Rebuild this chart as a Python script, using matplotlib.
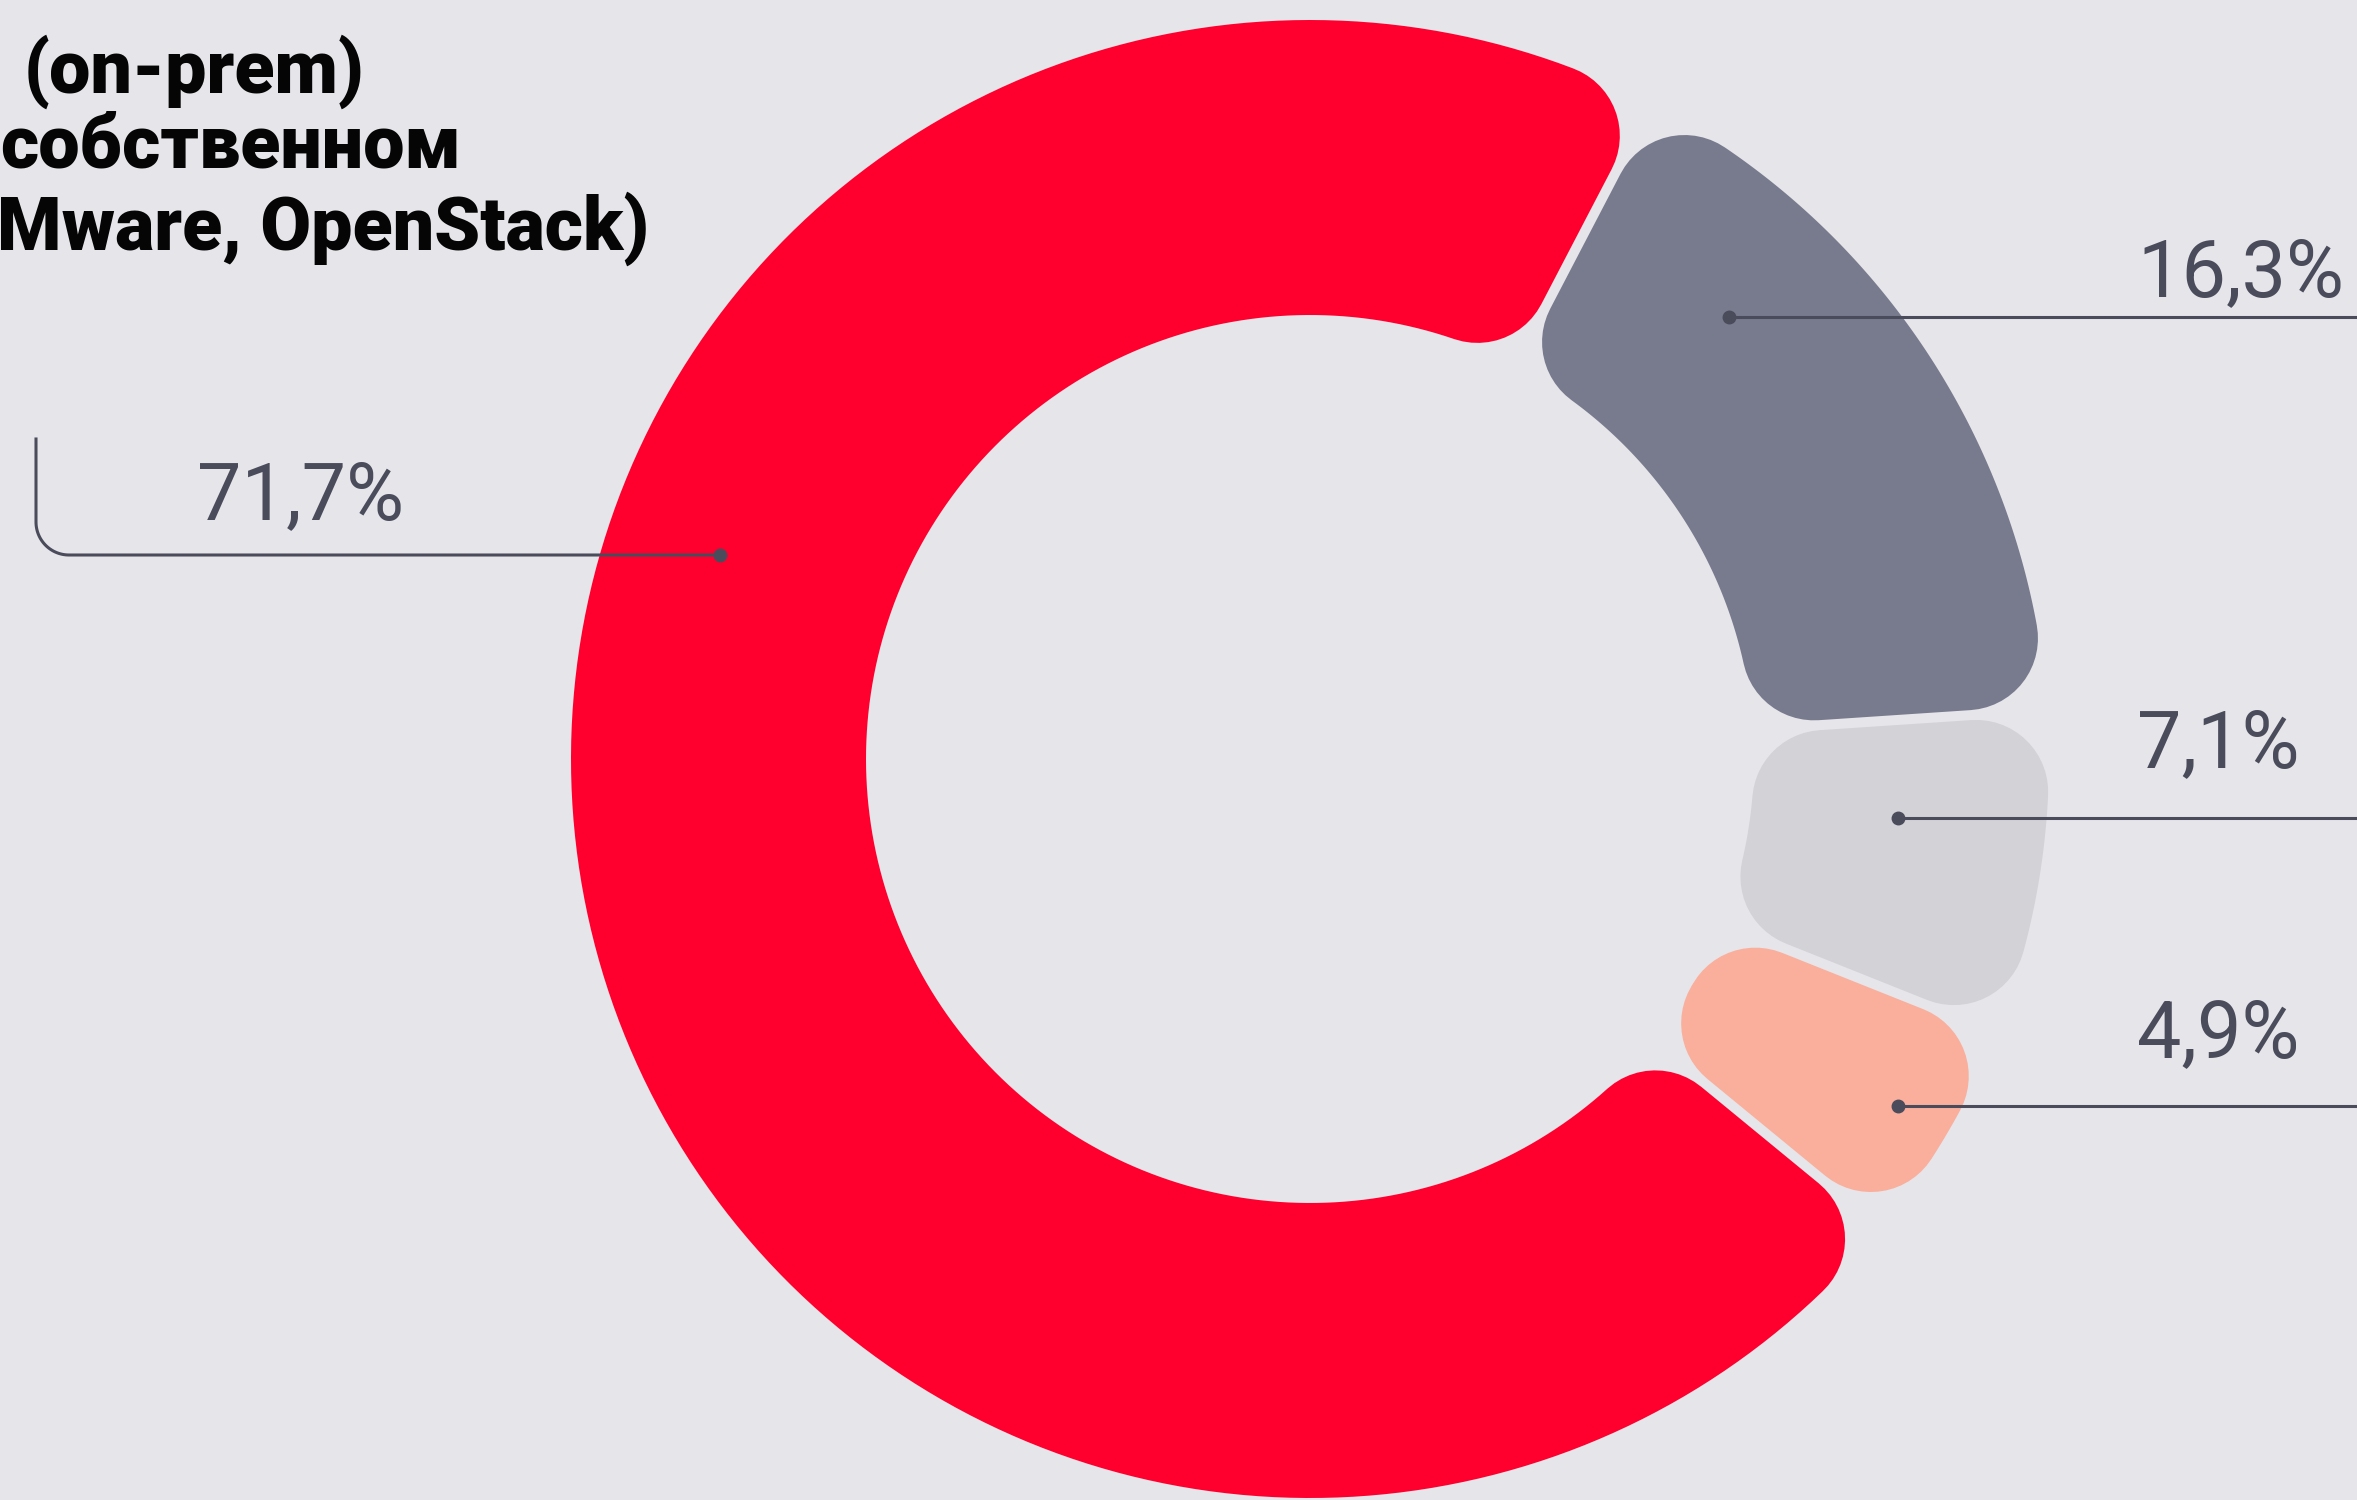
import numpy as np
import matplotlib
matplotlib.use("Agg")
import matplotlib.pyplot as plt
from matplotlib.patches import Polygon

# Доли вариантов размещения инфраструктуры, %
shares = [71.7, 16.3, 7.1, 4.9]
share_labels = ["71,7%", "16,3%", "7,1%", "4,9%"]
colors = ["#FF002E", "#787B8E", "#D3D2D7", "#F9AF9C"]
title_lines = ["(on-prem)", "собственном", "Mware, OpenStack)"]

BG = "#E6E5EA"
INK = "#4A4C5C"
W, H, DPI = 2357, 1500, 100

fig = plt.figure(figsize=(W / DPI, H / DPI), dpi=DPI, facecolor=BG)
ax = fig.add_axes([0, 0, 1, 1])
ax.set_facecolor(BG)

cx, cy = 1310, 759
r_out, ring = 739, 295
gap, rc = 10, 72

wedges, _ = ax.pie(shares, colors=colors, radius=r_out, center=(cx, cy),
                   startangle=39.4, counterclock=True,
                   wedgeprops=dict(width=ring, linewidth=0))

ax.set_xlim(0, W)
ax.set_ylim(H, 0)
ax.set_aspect("equal")
ax.axis("off")

# Rounded ring segments: shrink each wedge, then stroke it with a round join
lw_pt = 2 * rc * 72 / DPI
for w, c in zip(wedges, colors):
    t1, t2 = np.radians(w.theta1), np.radians(w.theta2)
    half = (t2 - t1) / 2
    ro, ri = w.r, w.r - w.width
    R2, R1 = ro - rc, ri + rc
    d = gap / 2 + rc
    a2 = min(np.arcsin(d / R2), half * 0.98)
    a1 = min(np.arcsin(d / R1), half * 0.98)
    to = np.linspace(t1 + a2, t2 - a2, 200)
    ti = np.linspace(t2 - a1, t1 + a1, 200)
    xs = np.concatenate([cx + R2 * np.cos(to), cx + R1 * np.cos(ti)])
    ys = np.concatenate([cy + R2 * np.sin(to), cy + R1 * np.sin(ti)])
    w.remove()
    ax.add_patch(Polygon(np.column_stack([xs, ys]), closed=True, facecolor=c,
                         edgecolor=c, linewidth=lw_pt, joinstyle="round",
                         zorder=2))

pct_font = dict(family="Roboto", weight="normal", fontsize=57, color=INK)

# Right-hand leaders and labels
right = [(1, (1729, 317), 296), (2, (1898, 818), 767), (3, (1898, 1106), 1057)]
for idx, (dx, dy), base in right:
    ax.plot([dx, W + 20], [dy, dy], color=INK, lw=2.2, zorder=3,
            solid_capstyle="butt", clip_on=False)
    ax.plot(dx, dy, "o", color=INK, ms=9, zorder=4)
    ax.text(2137, base, share_labels[idx], ha="left", va="baseline",
            zorder=5, **pct_font)

# Left leader with a rounded elbow
dx, dy = 720, 555
vx, top, rr = 36, 439, 33
arc_t = np.linspace(np.pi / 2, np.pi, 30)
lx = np.concatenate([[dx], vx + rr + rr * np.cos(arc_t), [vx]])
ly = np.concatenate([[dy], dy - rr + rr * np.sin(arc_t), [top]])
ax.plot(lx, ly, color=INK, lw=2.2, zorder=3, solid_joinstyle="round")
ax.plot(dx, dy, "o", color=INK, ms=9, zorder=4)
ax.text(197, 519, share_labels[0], ha="left", va="baseline", zorder=5,
        **pct_font)

# Category caption, top left
for line, (xr, base) in zip(title_lines, [(365, 93), (461, 168), (649, 250)]):
    ax.text(xr, base, line, ha="right", va="baseline", family="Roboto",
            weight="black", fontsize=53, color="#050505", zorder=5)

fig.savefig("out.png", dpi=DPI, facecolor=BG)
